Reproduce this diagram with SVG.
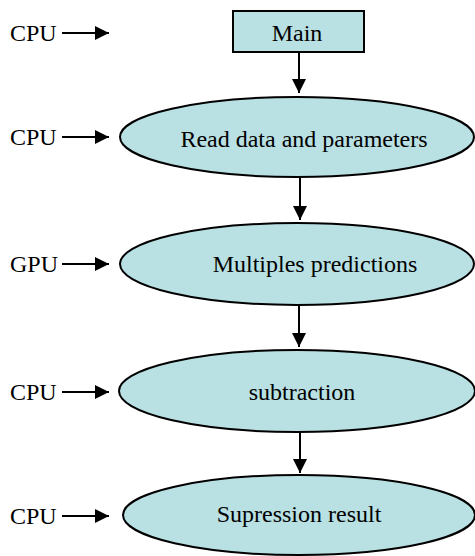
<svg xmlns="http://www.w3.org/2000/svg" width="475" height="556" viewBox="0 0 475 556">
  <style>
    .shape { fill: #b9e0e3; stroke: #000; stroke-width: 2; }
    .label { font-family: "Liberation Serif", "DejaVu Serif", "Times New Roman", serif; font-size: 24px; fill: #000; }
    .mid { text-anchor: middle; }
    .edge { stroke: #000; stroke-width: 2; fill: none; marker-end: url(#head); }
  </style>
  <defs>
    <marker id="head" viewBox="0 0 10 10" refX="10" refY="5" markerUnits="userSpaceOnUse" markerWidth="15" markerHeight="14" orient="auto">
      <path d="M0,0 L10,5 L0,10 Z" fill="#000"/>
    </marker>
  </defs>

  <!-- processing steps -->
  <g id="main">
    <rect class="shape" x="233" y="11" width="131" height="41"/>
    <text class="label mid" x="297" y="41">Main</text>
  </g>
  <g id="read">
    <ellipse class="shape" cx="297" cy="137" rx="177" ry="40"/>
    <text class="label mid" x="304" y="147">Read data and parameters</text>
  </g>
  <g id="predictions">
    <ellipse class="shape" cx="297" cy="264" rx="177" ry="41"/>
    <text class="label mid" x="315" y="272">Multiples predictions</text>
  </g>
  <g id="subtraction">
    <ellipse class="shape" cx="297" cy="391" rx="178" ry="41"/>
    <text class="label mid" x="302" y="400">subtraction</text>
  </g>
  <g id="supression">
    <ellipse class="shape" cx="299" cy="515" rx="176" ry="40"/>
    <text class="label mid" x="299" y="522">Supression result</text>
  </g>

  <!-- device labels -->
  <g id="device-labels">
    <text class="label" x="10" y="41">CPU</text>
    <text class="label" x="10" y="145">CPU</text>
    <text class="label" x="10" y="272">GPU</text>
    <text class="label" x="10" y="400">CPU</text>
    <text class="label" x="10" y="524">CPU</text>
  </g>

  <!-- connectors -->
  <g id="connectors">
    <line class="edge" x1="299" y1="52" x2="299" y2="93"/>
    <line class="edge" x1="300" y1="178" x2="300" y2="220"/>
    <line class="edge" x1="299" y1="306" x2="299" y2="347"/>
    <line class="edge" x1="300" y1="433" x2="300" y2="473"/>

    <line class="edge" x1="62" y1="33" x2="109" y2="33"/>
    <line class="edge" x1="62" y1="137" x2="109" y2="137"/>
    <line class="edge" x1="62" y1="264" x2="109" y2="264"/>
    <line class="edge" x1="62" y1="392" x2="109" y2="392"/>
    <line class="edge" x1="62" y1="516" x2="109" y2="516"/>
  </g>
</svg>
